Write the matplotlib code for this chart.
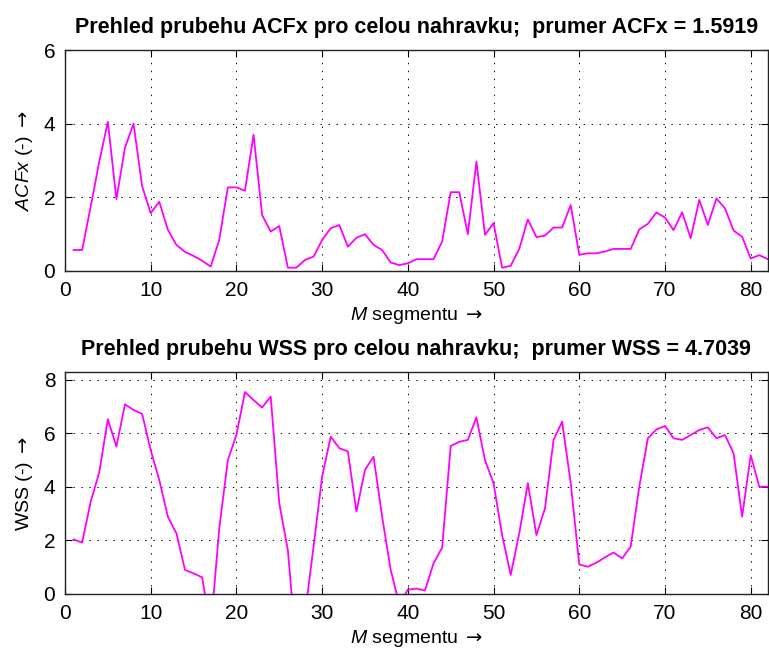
import numpy as np
import matplotlib.pyplot as plt

plt.rcParams['font.family'] = ['Liberation Sans', 'DejaVu Sans']
plt.rcParams['mathtext.fontset'] = 'custom'
plt.rcParams['mathtext.rm'] = 'Liberation Sans'
plt.rcParams['mathtext.it'] = 'Liberation Sans:italic'
plt.rcParams['mathtext.sf'] = 'DejaVu Sans'
plt.rcParams['mathtext.fallback'] = 'stix'

# segment index
segments = np.arange(1, 83)

# ACFx per segment
acfx = [0.57, 0.57, 1.75, 2.97, 4.05, 1.95, 3.35, 4.0, 2.3, 1.57,
        1.88, 1.12, 0.71, 0.52, 0.41, 0.28, 0.12, 0.85, 2.27, 2.27,
        2.18, 3.7, 1.52, 1.07, 1.22, 0.09, 0.09, 0.3, 0.39, 0.84,
        1.16, 1.25, 0.66, 0.9, 1.0, 0.71, 0.57, 0.23, 0.16, 0.21,
        0.32, 0.32, 0.32, 0.8, 2.14, 2.14, 1.0, 2.97, 0.98, 1.3,
        0.09, 0.14, 0.6, 1.4, 0.92, 0.96, 1.18, 1.18, 1.79, 0.44,
        0.48, 0.48, 0.53, 0.6, 0.6, 0.6, 1.13, 1.28, 1.59, 1.45,
        1.11, 1.59, 0.89, 1.93, 1.25, 1.97, 1.7, 1.1, 0.93, 0.34,
        0.43, 0.32]

# WSS per segment
wss = [2.04, 1.92, 3.45, 4.55, 6.53, 5.51, 7.09, 6.88, 6.73, 5.38,
       4.26, 2.89, 2.27, 0.9, 0.77, 0.62, -1.3, 2.45, 5.0, 5.95,
       7.55, 7.25, 6.97, 7.38, 3.39, 1.64, -2.1, -0.76, 1.77, 4.39,
       5.88, 5.45, 5.33, 3.08, 4.64, 5.13, 2.89, 0.9, -0.39, 0.16,
       0.2, 0.13, 1.15, 1.73, 5.53, 5.69, 5.76, 6.6, 5.0, 4.14,
       2.2, 0.71, 2.27, 4.14, 2.2, 3.2, 5.76, 6.44, 4.15, 1.1,
       1.02, 1.17, 1.37, 1.55, 1.33, 1.77, 4.01, 5.82, 6.15, 6.28,
       5.82, 5.76, 5.94, 6.13, 6.23, 5.82, 5.94, 5.26, 2.89, 5.19,
       4.01, 4.01]

acfx_mean = 1.5919
wss_mean = 4.7039

ARROW = r' $\mathsf{\rightarrow}$'

fig = plt.figure(figsize=(7.69, 6.53), dpi=100, facecolor='white')
ax1 = fig.add_axes([0.0845, 0.585, 0.914, 0.3384])
ax2 = fig.add_axes([0.0845, 0.0904, 0.914, 0.340])


def style_axes(ax, ymax, yticks):
    ax.set_xlim(0, 82)
    ax.set_ylim(0, ymax)
    ax.set_xticks(np.arange(0, 81, 10))
    ax.set_yticks(yticks)
    ax.tick_params(direction='in', length=5, width=0.8, labelsize=15,
                   top=True, right=True, pad=7)
    ax.grid(True, color='black', linewidth=0.7, linestyle=(0, (1.4, 6.8)))
    for s in ax.spines.values():
        s.set_linewidth(1.0)
        s.set_color('#222222')
    ax.set_xlabel(r'$\mathit{M}$ segmentu' + ARROW, fontsize=14, labelpad=4)


ax1.plot(segments, acfx, color='#ff00ff', linewidth=1.3)
style_axes(ax1, 6, [0, 2, 4, 6])
ax1.set_ylabel(r'$\mathit{ACFx}$ (-)' + ARROW, fontsize=14, labelpad=6)
ax1.set_title('Prehled prubehu ACFx pro celou nahravku;  prumer ACFx = %.4f' % acfx_mean,
              fontsize=15.5, fontweight='bold', pad=12)

ax2.plot(segments, wss, color='#ff00ff', linewidth=1.3)
style_axes(ax2, 8.3, [0, 2, 4, 6, 8])
ax2.set_ylabel('WSS (-)' + ARROW, fontsize=14, labelpad=6)
ax2.set_title('Prehled prubehu WSS pro celou nahravku;  prumer WSS = %.4f' % wss_mean,
              fontsize=15.5, fontweight='bold', pad=12)

fig.savefig('out.png', dpi=100, facecolor='white')
